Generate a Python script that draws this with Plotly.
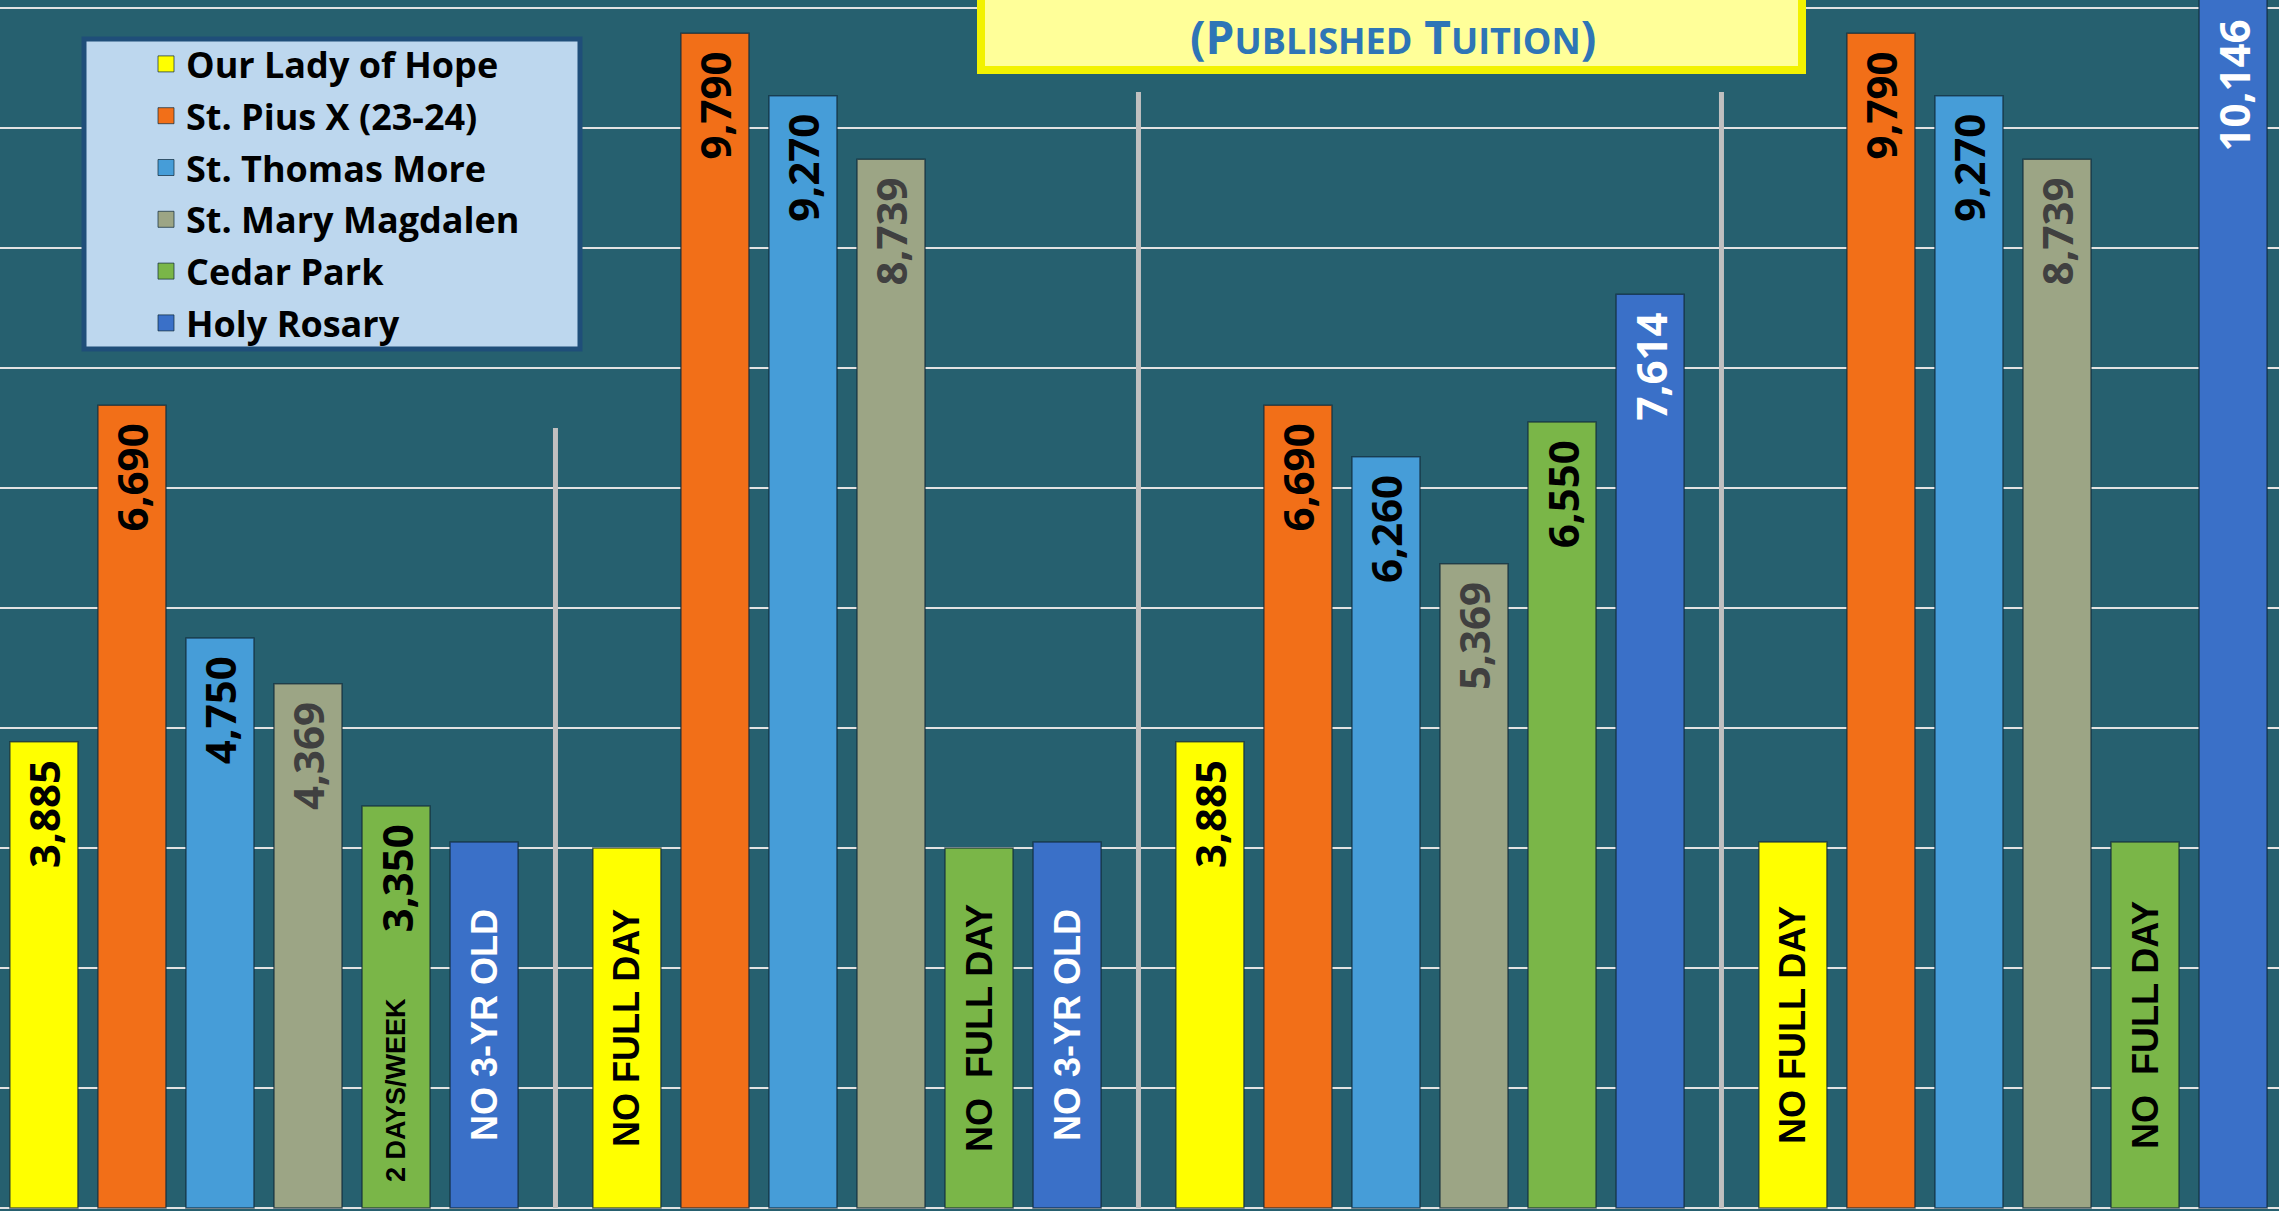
import plotly.graph_objects as go

# programs (x categories, labels are cropped off in the original)
programs = ["3-Yr Half Day", "3-Yr Full Day", "4-Yr Half Day", "4-Yr Full Day"]

schools = ["Our Lady of Hope", "St. Pius X (23-24)", "St. Thomas More",
           "St. Mary Magdalen", "Cedar Park", "Holy Rosary"]

# published tuition per school, None = program not offered
olh_tuition = [3885, None, 3885, None]
pius_tuition = [6690, 9790, 6690, 9790]
stm_tuition = [4750, 9270, 6260, 9270]
smm_tuition = [4369, 8739, 5369, 8739]
cedar_tuition = [3350, None, 6550, None]
rosary_tuition = [None, None, 7614, 10146]

# placeholder bars drawn where a program is not offered
olh_placeholder = [None, 3000, None, 3050]
cedar_placeholder = [None, 3000, None, 3050]
rosary_placeholder = [3050, 3050, None, None]

olh_note = [None, "NO FULL DAY", None, "NO FULL DAY"]
cedar_note = [None, "NO  FULL DAY", None, "NO  FULL DAY"]
rosary_note = ["NO 3-YR OLD", "NO 3-YR OLD", None, None]

cedar_footnote = "2 DAYS/WEEK"

BG = "#26606F"
BARGAP = 0.094
GROUPGAP = 0.227
EDGE = "rgba(15,40,55,0.7)"
YMAX = 10067

series = [
    (schools[0], olh_tuition, olh_placeholder, olh_note, "#FFFF00", "black"),
    (schools[1], pius_tuition, None, None, "#F26F18", "black"),
    (schools[2], stm_tuition, None, None, "#469DD8", "black"),
    (schools[3], smm_tuition, None, None, "#9CA585", "#404040"),
    (schools[4], cedar_tuition, cedar_placeholder, cedar_note, "#7AB648", "black"),
    (schools[5], rosary_tuition, rosary_placeholder, rosary_note, "#3A70C8", "white"),
]


def bar_label(v):
    # trailing spaces keep the number a little below the bar top,
    # a bit more when the bar runs past the top of the view
    if v is None:
        return ""
    pad = "\u00a0\u200a"
    if v > YMAX:
        pad += "\u00a0"
    return f"{v:,}{pad}"


fig = go.Figure()

for name, vals, ph, notes, color, tcolor in series:
    fig.add_trace(go.Bar(
        x=programs, y=vals, name=name, offsetgroup=name, legendgroup=name,
        showlegend=False,
        marker=dict(color=color, line=dict(color=EDGE, width=1.5)),
        text=[bar_label(v) for v in vals], textposition="inside", insidetextanchor="end",
        textangle=-90, constraintext="none",
        textfont=dict(family="Open Sans", size=42, color=tcolor, weight="bold"),
        hoverinfo="skip",
    ))
    if ph is not None:
        fig.add_trace(go.Bar(
            x=programs, y=ph, name=name, offsetgroup=name, legendgroup=name,
            showlegend=False,
            marker=dict(color=color, line=dict(color=EDGE, width=1.5)),
            text=[n if n else "" for n in notes], textposition="inside",
            insidetextanchor="middle", textangle=-90, constraintext="none",
            textfont=dict(family="Liberation Sans", size=36, color=tcolor, weight="bold"),
            hoverinfo="skip",
        ))
    # legend entry with a bigger square symbol
    fig.add_trace(go.Scatter(
        x=[None], y=[None], mode="markers", name=name, legendgroup=name,
        marker=dict(symbol="square", size=20, color=color, line=dict(color=EDGE, width=1)),
        hoverinfo="skip",
    ))

# extra note at the bottom of the Cedar Park bar
slot = (1 - BARGAP) / len(schools)
fig.add_annotation(
    x=0 + (4 - 2.5) * slot, y=0, xref="x", yref="y",
    text=cedar_footnote, textangle=-90, showarrow=False,
    yanchor="bottom", yshift=24,
    font=dict(family="Liberation Sans", size=27, color="black", weight="bold"),
)

# vertical dividers between program groups
divider_tops = [6500, 9300, 9300]
for i, top in enumerate(divider_tops):
    fig.add_shape(type="line", xref="x", yref="y", x0=i + 0.5, x1=i + 0.5,
                  y0=0, y1=top, line=dict(color="#C0C0C0", width=5), layer="between")

# legend panel
fig.add_shape(type="rect", xref="paper", yref="paper",
              x0=84 / 2279, x1=580 / 2279, y0=1 - 349 / 1211, y1=1 - 39 / 1211,
              fillcolor="#BDD7EE", line=dict(color="#1F4E79", width=5), layer="above")

# title box (cropped at top)
fig.add_shape(type="rect", xref="paper", yref="paper",
              x0=981 / 2279, x1=1802 / 2279, y0=1 - 70 / 1211, y1=1.05,
              fillcolor="#FFFF99", line=dict(color="#F2F200", width=8), layer="above")
fig.add_annotation(
    xref="paper", yref="paper", x=1393 / 2279, y=1 - 36 / 1211,
    text='(P<span style="font-size:36px">UBLISHED</span> T<span style="font-size:36px">UITION</span>)',
    showarrow=False, xanchor="center", yanchor="middle",
    font=dict(family="Open Sans", size=46, color="#2E75B6", weight="bold"),
)

fig.update_layout(
    width=2279, height=1211,
    margin=dict(l=0, r=0, t=0, b=0),
    paper_bgcolor=BG, plot_bgcolor=BG,
    barmode="group", bargap=BARGAP, bargroupgap=GROUPGAP,
    showlegend=True,
    legend=dict(
        x=146 / 2279, y=1 - 34 / 1211, xanchor="left", yanchor="top",
        bgcolor="rgba(0,0,0,0)", borderwidth=0, tracegroupgap=2,
        font=dict(family="Open Sans", size=36, color="black", weight="bold"),
        itemclick=False,
    ),
    xaxis=dict(range=[-0.4528, 3.4563], showticklabels=False, showgrid=False,
               zeroline=False, ticks=""),
    yaxis=dict(range=[-25, YMAX], dtick=1000, tick0=0, showticklabels=False,
               gridcolor="#E2E2E2", gridwidth=2, zeroline=False, ticks=""),
)

# page body margin would shift the figure off the window edges
fig.write_html("out.html", config={"displayModeBar": False},
               post_script="document.body.style.margin='0';")
